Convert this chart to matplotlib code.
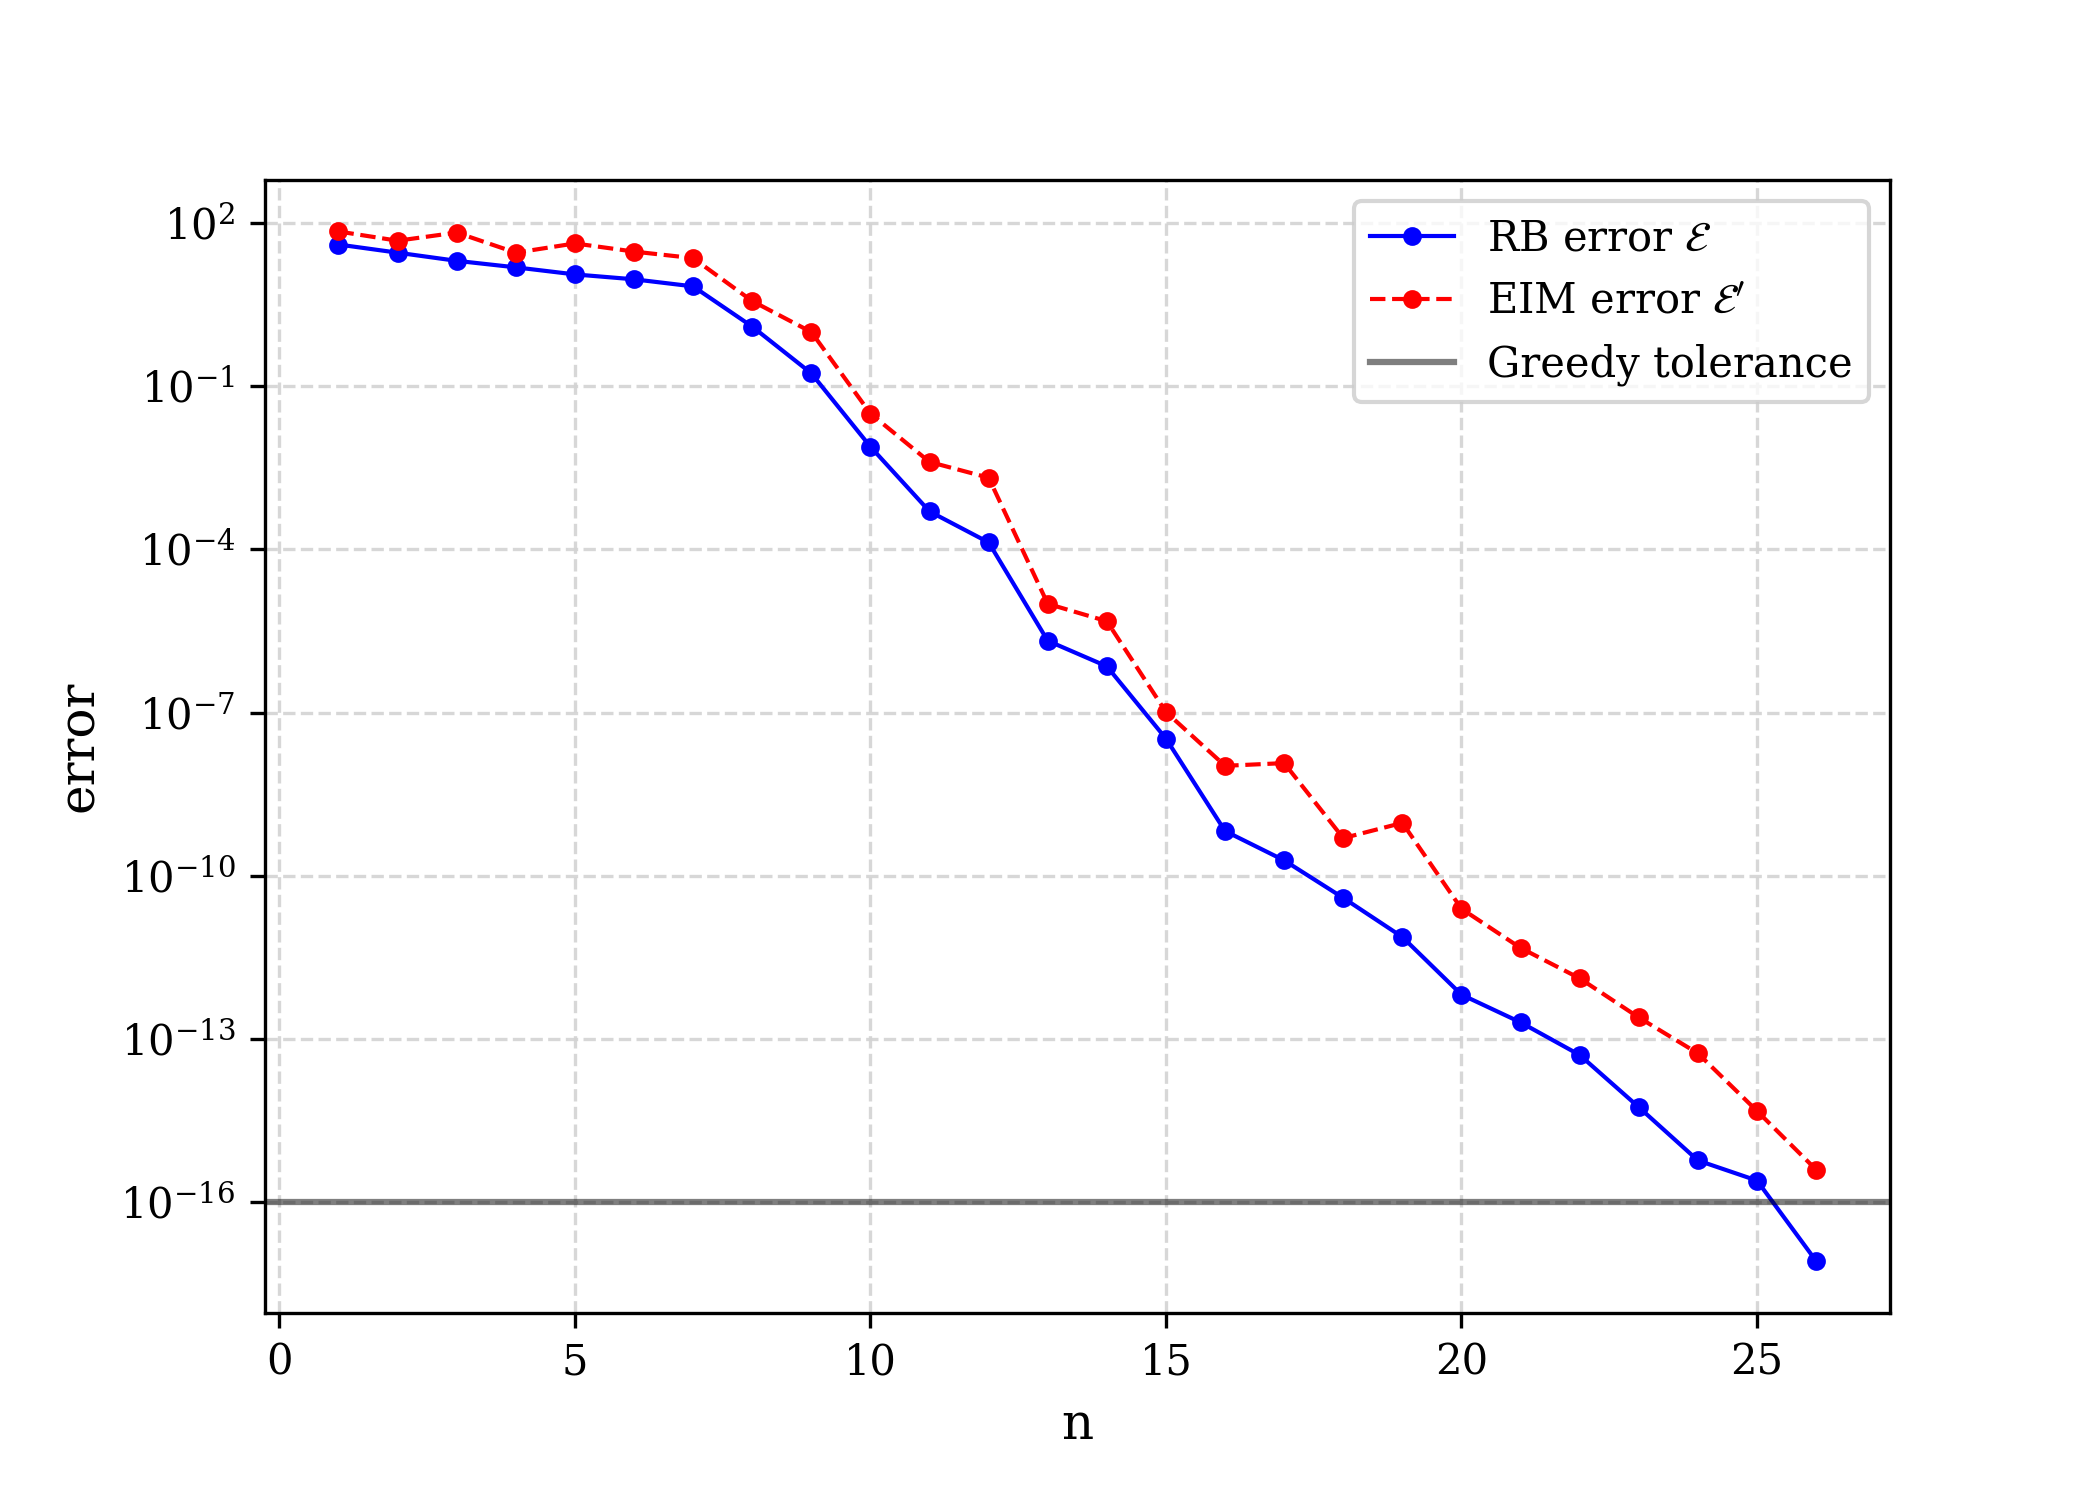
import numpy as np
import matplotlib
matplotlib.use("Agg")
import matplotlib.pyplot as plt

plt.rcParams['font.family'] = 'serif'
plt.rcParams['mathtext.fontset'] = 'dejavuserif'

# Data (log10 of the errors)
n = np.arange(1, 27)
rb_log = [1.61, 1.46, 1.31, 1.19, 1.06, 0.97, 0.84, 0.10, -0.76, -2.11,
          -3.30, -3.87, -5.68, -6.15, -7.48, -9.18, -9.72, -10.41, -11.13, -12.19,
          -12.70, -13.30, -14.26, -15.24, -15.61, -17.09]
eim_log = [1.85, 1.68, 1.83, 1.46, 1.63, 1.48, 1.36, 0.57, 0.0, -1.50,
           -2.39, -2.68, -5.00, -5.32, -6.99, -7.98, -7.93, -9.31, -9.03, -10.61,
           -11.33, -11.89, -12.61, -13.27, -14.33, -15.41]
tol = 1e-16

rb_err = 10.0 ** np.array(rb_log)
eim_err = 10.0 ** np.array(eim_log)

fig, ax = plt.subplots(figsize=(7, 5), dpi=300)
fig.subplots_adjust(left=0.126, right=0.9, top=0.88, bottom=0.125)

ax.semilogy(n, rb_err, 'b-o', lw=1, ms=3.5, label=r'RB error $\mathcal{E}$')
ax.semilogy(n, eim_err, 'r--o', lw=1, ms=3.5, label=r"EIM error $\mathcal{E}'$")
ax.axhline(tol, color='k', alpha=0.5, lw=1.5, label='Greedy tolerance')

ax.grid(True, linestyle='--', color='lightgray', alpha=0.9)
ax.set_yticks([1e2, 1e-1, 1e-4, 1e-7, 1e-10, 1e-13, 1e-16])
ax.minorticks_off()
ax.tick_params(labelsize=10)
ax.set_xlabel('n', fontsize=12)
ax.set_ylabel('error', fontsize=12)
ax.legend(loc='upper right', fontsize=10)

fig.savefig('out.png', dpi=300)
